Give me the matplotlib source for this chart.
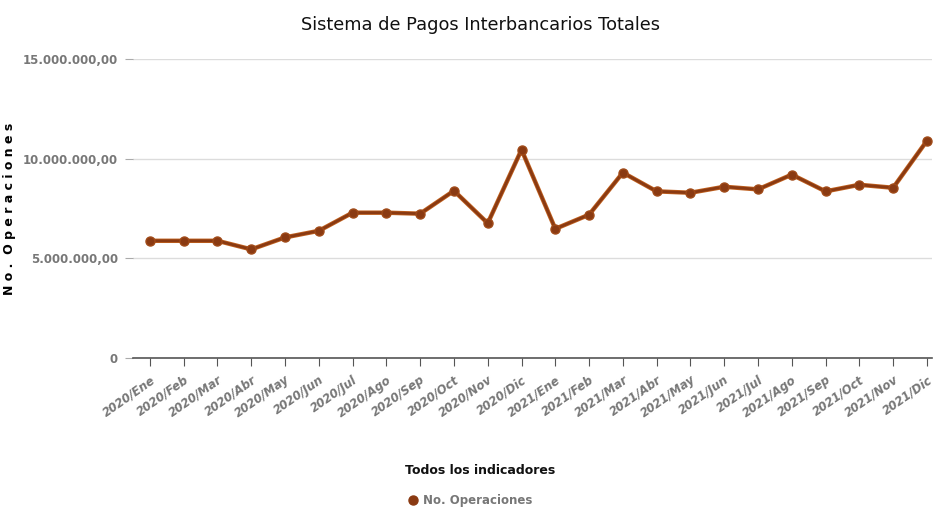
import matplotlib
matplotlib.use("Agg")
import matplotlib.pyplot as plt
from matplotlib.ticker import FuncFormatter
from matplotlib.lines import Line2D

# Datos (numero de operaciones por mes)
meses = ["Ene", "Feb", "Mar", "Abr", "May", "Jun",
         "Jul", "Ago", "Sep", "Oct", "Nov", "Dic"]
etiquetas = [f"2020/{m}" for m in meses] + [f"2021/{m}" for m in meses]
operaciones = [5880000, 5880000, 5880000, 5450000, 6050000, 6380000,
               7290000, 7290000, 7240000, 8390000, 6760000, 10450000,
               6480000, 7190000, 9300000, 8360000, 8290000, 8590000,
               8460000, 9200000, 8360000, 8690000, 8540000, 10900000]

plt.rcParams["font.family"] = ["DejaVu Sans"]

color_linea = "#8a3a12"
gris = "#777777"

fig = plt.figure(figsize=(9.33, 5.09), dpi=100)
ax = fig.add_axes([133 / 933, (509 - 358) / 509, 799 / 933, 299 / 509])

x = list(range(len(operaciones)))
ax.plot(x, operaciones, color="#c0601e", linewidth=3.2, zorder=2)
ax.plot(x, operaciones, color=color_linea, linewidth=2.0, marker="o",
        markersize=6.5, markerfacecolor=color_linea,
        markeredgecolor="#a04a18", zorder=3)

ax.set_xlim(-0.5, 23.15)
ax.set_ylim(0, 15000000)
ax.set_yticks([0, 5000000, 10000000, 15000000])


def formato(v, pos):
    if v == 0:
        return "0"
    s = f"{int(v):,}".replace(",", ".")
    return s + ",00"


ax.yaxis.set_major_formatter(FuncFormatter(formato))
ax.set_xticks(x)
ax.set_xticklabels(etiquetas, rotation=35, ha="right", rotation_mode="anchor",
                   fontsize=8.5, fontweight="bold", fontstyle="italic",
                   color=gris)
for lbl in ax.get_yticklabels():
    lbl.set_fontsize(8.5)
    lbl.set_fontweight("bold")
    lbl.set_color(gris)

ax.grid(axis="y", color="#dcdcdc", linewidth=1)
ax.set_axisbelow(True)
for s in ["top", "right", "left"]:
    ax.spines[s].set_visible(False)
ax.spines["bottom"].set_color("#555555")
ax.spines["bottom"].set_linewidth(1.2)
ax.tick_params(axis="x", direction="out", length=6, color="#555555", pad=5)
ax.tick_params(axis="y", direction="out", length=6, color="#aaaaaa", pad=5)

ax.set_ylabel("N o .  O p e r a c i o n e s", fontsize=9, fontweight="bold")
ax.yaxis.set_label_coords(-0.146, 0.5)

fig.text(0.515, 0.95, "Sistema de Pagos Interbancarios Totales",
         ha="center", va="center", fontsize=12.8, color="#111111")

fig.text(0.515, 0.075, "Todos los indicadores", ha="center", va="center",
         fontsize=9, fontweight="bold", color="#111111")
fig.lines.append(Line2D([0.443], [0.017], marker="o", markersize=6.5,
                        color=color_linea, transform=fig.transFigure))
fig.text(0.453, 0.017, "No. Operaciones", ha="left", va="center",
         fontsize=8.5, fontweight="bold", color=gris)

fig.savefig("out.png", dpi=100)
